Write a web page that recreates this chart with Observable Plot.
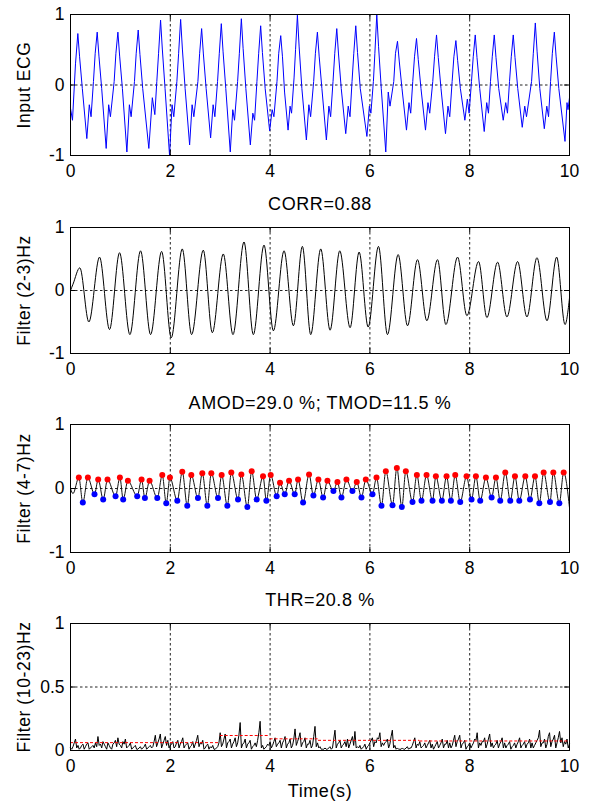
<!DOCTYPE html>
<html><head><meta charset="utf-8">
<script src="https://cdn.jsdelivr.net/npm/d3@7"></script>
<script src="https://cdn.jsdelivr.net/npm/@observablehq/plot@0.6"></script>
<style>
html,body{margin:0;padding:0;background:#fff;}
#chart{position:relative;width:589px;height:801px;overflow:hidden;background:#fff;}
#chart > div{position:absolute;left:0;width:589px;}
</style></head><body><div id="chart"></div>
<script>
// ---------- labels & ticks ----------
const xTicks = [0, 2, 4, 6, 8, 10];
const xGrid = [2, 4, 6, 8];
const yTicksSym = [-1, 0, 1];
const yTicksPos = [0, 0.5, 1];
const yLabels = ["Input ECG", "Filter (2-3)Hz", "Filter (4-7)Hz", "Filter (10-23)Hz"];
const titles = ["CORR=0.88", "AMOD=29.0 %; TMOD=11.5 %", "THR=20.8 %"];
const xLabel = "Time(s)";

// ---------- panel 1: input ECG [time s, value] ----------
const ecg = [
[0,-0.33],[0.04,-0.5],[0.1,0.3],
[0.147,0.73],[0.182,0.40],[0.237,-0.05],[0.327,-0.76],[0.377,-0.28],[0.412,-0.45],[0.46,0.05],[0.495,0.45],
[0.535,0.75],[0.57,0.41],[0.625,-0.05],[0.715,-0.90],[0.765,-0.28],[0.8,-0.45],[0.875,0.05],[0.91,0.45],
[0.95,0.75],[0.985,0.41],[1.04,-0.05],[1.13,-0.95],[1.18,-0.28],[1.215,-0.45],[1.282,0.05],[1.317,0.45],
[1.357,0.78],[1.392,0.43],[1.447,-0.05],[1.57,-0.90],[1.64,-0.18],[1.69,-0.42],[1.73,0.05],[1.765,0.45],
[1.805,0.92],[1.84,0.51],[1.895,-0.05],[1.985,-1.0],[2.035,-0.28],[2.07,-0.45],[2.132,0.05],[2.167,0.45],
[2.207,0.93],[2.242,0.51],[2.297,-0.05],[2.387,-0.85],[2.437,-0.28],[2.472,-0.45],[2.553,0.05],[2.588,0.45],
[2.628,0.80],[2.663,0.44],[2.718,-0.05],[2.808,-0.75],[2.858,-0.28],[2.893,-0.45],[2.947,0.05],[2.982,0.45],
[3.022,0.87],[3.057,0.48],[3.112,-0.05],[3.202,-0.95],[3.252,-0.35],[3.287,-0.5],[3.349,0.05],[3.384,0.45],
[3.424,0.94],[3.459,0.52],[3.514,-0.05],[3.604,-0.85],[3.654,-0.4],[3.689,-0.5],[3.736,0.05],[3.771,0.45],
[3.811,0.84],[3.846,0.46],[3.901,-0.05],[3.991,-0.65],[4.041,-0.35],[4.076,-0.45],[4.138,0.05],[4.173,0.45],
[4.213,0.70],[4.248,0.40],[4.29,-0.1],[4.36,-0.64],[4.4,-0.3],[4.43,-0.4],[4.48,0.1],[4.51,0.5],
[4.547,0.99],[4.582,0.54],[4.637,-0.05],[4.727,-0.78],[4.777,-0.28],[4.812,-0.45],[4.873,0.05],[4.908,0.45],
[4.948,0.75],[4.983,0.41],[5.038,-0.05],[5.128,-0.78],[5.178,-0.3],[5.213,-0.45],[5.261,0.05],[5.296,0.45],
[5.336,0.80],[5.371,0.44],[5.426,-0.05],[5.516,-0.69],[5.566,-0.3],[5.601,-0.45],[5.642,0.05],[5.677,0.45],
[5.717,0.84],[5.752,0.46],[5.807,-0.05],[5.94,-0.73],[5.99,-0.3],[6.02,-0.4],[6.07,0.05],[6.1,0.45],
[6.138,1.0],[6.173,0.55],[6.228,-0.05],[6.318,-0.95],[6.368,-0.1],[6.403,-0.3],[6.478,0.05],[6.513,0.45],
[6.553,0.62],[6.588,0.34],[6.643,-0.05],[6.733,-0.64],[6.783,-0.25],[6.818,-0.4],[6.859,0.05],[6.894,0.4],
[6.934,0.66],[6.969,0.36],[7.024,-0.05],[7.114,-0.64],[7.164,-0.25],[7.199,-0.4],[7.26,0.05],[7.295,0.4],
[7.335,0.71],[7.37,0.39],[7.425,-0.05],[7.515,-0.69],[7.565,-0.3],[7.6,-0.45],[7.648,0.05],[7.683,0.4],
[7.723,0.63],[7.758,0.35],[7.813,-0.05],[7.903,-0.5],[7.953,-0.2],[7.988,-0.4],[8.036,0.05],[8.071,0.4],
[8.111,0.71],[8.146,0.39],[8.201,-0.05],[8.291,-0.66],[8.341,-0.25],[8.376,-0.4],[8.417,0.05],[8.452,0.4],
[8.492,0.71],[8.527,0.39],[8.582,-0.05],[8.672,-0.5],[8.722,-0.25],[8.757,-0.4],[8.798,0.05],[8.833,0.4],
[8.873,0.71],[8.908,0.39],[8.963,-0.05],[9.053,-0.6],[9.103,-0.3],[9.138,-0.45],[9.24,0.05],[9.275,0.45],
[9.315,0.88],[9.35,0.48],[9.405,-0.05],[9.495,-0.62],[9.545,-0.3],[9.58,-0.45],[9.621,0.05],[9.656,0.45],
[9.696,0.75],[9.731,0.41],[9.786,-0.05],[9.91,-0.8],[9.95,-0.25],[9.97,-0.35],[10,-0.18]
];

// ---------- panel 2: 2-3 Hz band [time s, value] (extrema) ----------
const band23 = [
[0,0],[0.05,0.1],[0.187,0.36],[0.368,-0.5],[0.582,0.53],[0.782,-0.62],[0.983,0.60],[1.19,-0.70],
[1.404,0.63],[1.605,-0.70],[1.826,0.62],[2.019,-0.75],[2.24,0.66],[2.427,-0.70],[2.661,0.64],
[2.842,-0.67],[3.062,0.58],[3.256,-0.70],[3.477,0.77],[3.664,-0.70],[3.878,0.72],[4.066,-0.64],
[4.28,0.63],[4.467,-0.56],[4.647,0.70],[4.814,-0.70],[5.015,0.66],[5.202,-0.63],[5.396,0.63],
[5.603,-0.59],[5.784,0.61],[5.965,-0.58],[6.172,0.70],[6.352,-0.70],[6.566,0.57],[6.754,-0.56],
[6.954,0.49],[7.141,-0.48],[7.355,0.49],[7.523,-0.54],[7.757,0.53],[7.944,-0.40],[8.178,0.46],
[8.345,-0.43],[8.559,0.45],[8.746,-0.42],[8.96,0.46],[9.147,-0.42],[9.348,0.52],[9.549,-0.48],
[9.743,0.53],[9.91,-0.54],[10,-0.12]
];

// ---------- panel 3: 4-7 Hz band, detected peaks (red) and troughs (blue) ----------
const band47Peaks = [
[0.167,0.17],[0.348,0.17],[0.555,0.14],[0.742,0.14],[0.99,0.17],[1.15,0.12],[1.424,0.14],[1.585,0.12],
[1.839,0.21],[1.993,0.17],[2.24,0.26],[2.421,0.21],[2.641,0.24],[2.822,0.24],[3.029,0.21],[3.223,0.25],
[3.424,0.22],[3.631,0.27],[3.858,0.19],[4.012,0.21],[4.199,0.09],[4.38,0.12],[4.56,0.14],[4.781,0.22],
[4.968,0.14],[5.149,0.12],[5.349,0.10],[5.53,0.14],[5.737,0.10],[5.918,0.14],[6.132,0.17],[6.319,0.27],
[6.54,0.32],[6.72,0.27],[6.941,0.21],[7.135,0.21],[7.322,0.19],[7.536,0.19],[7.71,0.21],[7.937,0.19],
[8.124,0.19],[8.325,0.17],[8.526,0.17],[8.713,0.25],[8.907,0.19],[9.114,0.19],[9.308,0.19],[9.482,0.25],
[9.676,0.25],[9.883,0.25]
];
const band47Troughs = [
[0.247,-0.22],[0.481,-0.09],[0.655,-0.17],[0.903,-0.12],[1.056,-0.17],[1.337,-0.12],[1.491,-0.15],
[1.739,-0.15],[1.919,-0.23],[2.14,-0.19],[2.34,-0.27],[2.554,-0.15],[2.742,-0.27],[2.956,-0.15],
[3.143,-0.27],[3.357,-0.17],[3.544,-0.29],[3.731,-0.17],[3.925,-0.19],[4.132,-0.12],[4.293,-0.09],
[4.493,-0.09],[4.661,-0.22],[4.868,-0.11],[5.062,-0.14],[5.269,-0.04],[5.43,-0.14],[5.65,-0.04],
[5.831,-0.14],[6.052,-0.09],[6.232,-0.27],[6.453,-0.26],[6.64,-0.29],[6.854,-0.21],[7.034,-0.19],
[7.255,-0.19],[7.442,-0.19],[7.623,-0.19],[7.81,-0.21],[8.037,-0.17],[8.211,-0.19],[8.439,-0.14],
[8.612,-0.19],[8.813,-0.19],[8.994,-0.19],[9.208,-0.17],[9.395,-0.23],[9.609,-0.21],[9.796,-0.23]
];
const band47Ends = [[0,0],[0.05,-0.08],[10,-0.3]];

// ---------- panel 4: 10-23 Hz envelope, samples every 0.05 s + mid samples ----------
const band1023Step = 0.05;
const band1023 = [
0.02,0.03,0.09,0.04,0.02,0.05,0.03,0.06,0.02,0.04,
0.06,0.11,0.05,0.07,0.03,0.06,0.02,0.05,0.08,0.10,
0.04,0.07,0.09,0.03,0.06,0.02,0.04,0.01,0.03,0.02,
0.05,0.02,0.04,0.03,0.12,0.06,0.13,0.05,0.11,0.08,
0.04,0.07,0.03,0.08,0.05,0.10,0.04,0.06,0.03,0.07,
0.05,0.12,0.06,0.08,0.02,0.05,0.03,0.04,0.01,0.03,
0.14,0.05,0.13,0.06,0.09,0.05,0.10,0.06,0.22,0.05,
0.09,0.05,0.08,0.03,0.06,0.08,0.23,0.04,0.02,0.05,
0.07,0.04,0.10,0.05,0.08,0.06,0.11,0.05,0.09,0.04,
0.17,0.07,0.14,0.06,0.10,0.05,0.08,0.04,0.19,0.06,
0.03,0.01,0.02,0.01,0.03,0.02,0.16,0.05,0.08,0.04,
0.07,0.09,0.05,0.11,0.15,0.03,0.04,0.02,0.05,0.03,
0.06,0.10,0.07,0.10,0.14,0.06,0.06,0.09,0.05,0.16,
0.04,0.02,0.01,0.02,0.01,0.03,0.02,0.04,0.10,0.05,
0.07,0.03,0.06,0.04,0.08,0.05,0.03,0.07,0.04,0.09,
0.05,0.08,0.06,0.04,0.12,0.07,0.12,0.05,0.08,0.03,
0.06,0.04,0.09,0.14,0.06,0.07,0.10,0.05,0.13,0.06,
0.04,0.08,0.05,0.10,0.06,0.04,0.07,0.03,0.06,0.05,
0.10,0.04,0.07,0.05,0.09,0.06,0.04,0.08,0.16,0.06,
0.09,0.05,0.14,0.07,0.12,0.06,0.15,0.10,0.07,0.09,
0.05
];
const band1023Mid = [
0.01,0.06,0.02,0.01,0.04,0.01,0.05,0.01,0.03,0.02,
0.03,0.04,0.02,0.05,0.01,0.04,0.01,0.06,0.03,0.05,
0.02,0.05,0.02,0.04,0.01,0.03,0.01,0.02,0.01,0.03,
0.01,0.03,0.02,0.07,0.03,0.09,0.02,0.08,0.04,0.02,
0.05,0.02,0.06,0.02,0.07,0.02,0.05,0.01,0.04,0.02,
0.08,0.03,0.05,0.01,0.04,0.01,0.02,0.01,0.02,0.06,
0.03,0.09,0.02,0.07,0.02,0.07,0.03,0.12,0.02,0.06,
0.02,0.06,0.01,0.04,0.03,0.14,0.02,0.01,0.03,0.04,
0.02,0.07,0.03,0.06,0.02,0.08,0.02,0.06,0.02,0.09,
0.04,0.10,0.03,0.07,0.02,0.05,0.02,0.11,0.03,0.02,
0.01,0.01,0.01,0.02,0.01,0.09,0.02,0.06,0.02,0.05,
0.03,0.02,0.08,0.04,0.02,0.02,0.01,0.03,0.01,0.04,
0.08,0.03,0.06,0.09,0.03,0.04,0.07,0.02,0.11,0.02,
0.01,0.01,0.01,0.01,0.02,0.01,0.02,0.07,0.02,0.04,
0.02,0.04,0.02,0.06,0.02,0.01,0.05,0.02,0.06,0.02,
0.05,0.02,0.02,0.08,0.03,0.09,0.02,0.06,0.01,0.04,
0.02,0.06,0.08,0.02,0.04,0.07,0.02,0.09,0.03,0.02,
0.05,0.02,0.07,0.02,0.02,0.05,0.01,0.04,0.02,0.07,
0.02,0.05,0.02,0.06,0.02,0.02,0.06,0.10,0.03,0.06,
0.02,0.11,0.03,0.09,0.02,0.10,0.06,0.03,0.05,0.02
];
// threshold: [start s, end s, level]
const thrSegments = [[0,3.0,0.062],[3.0,4.0,0.118],[4.0,4.97,0.092],[4.97,7.0,0.08],[7.0,10,0.075]];

// ---------- drawing ----------
const FONT = '"Liberation Sans", Arial, Helvetica, sans-serif';
const W = 589, ML = 70, MR = 20;
const gridStyle = {stroke: "#222", strokeWidth: 1, strokeDasharray: "2.5,2.5"};

function panel({top, height, mt, mb, yDomain, yTicks, yGrid, label, title, titleDy, xlabel, marks}) {
  const fw = W - ML - MR, fh = height - mt - mb, tl = 5;
  const all = [
    Plot.ruleX(xGrid, {x: d => d, ...gridStyle}),
    Plot.ruleY(yGrid, {y: d => d, ...gridStyle}),
    ...marks,
    Plot.tickX(xTicks, {x: d => d, insetTop: fh - tl, stroke: "#000"}),
    Plot.tickX(xTicks, {x: d => d, insetBottom: fh - tl, stroke: "#000"}),
    Plot.tickY(yTicks, {y: d => d, insetRight: fw - tl, stroke: "#000"}),
    Plot.tickY(yTicks, {y: d => d, insetLeft: fw - tl, stroke: "#000"}),
    Plot.frame({stroke: "#000"}),
    Plot.text([label], {text: d => d, frameAnchor: "left", textAnchor: "middle", lineAnchor: "middle", rotate: -90, dx: -46, fontSize: 17.5, fill: "#000"})
  ];
  if (title) all.push(Plot.text([title], {text: d => d, frameAnchor: "top", textAnchor: "middle", lineAnchor: "bottom", dy: titleDy, fontSize: 18, fill: "#000"}));
  if (xlabel) all.push(Plot.text([xlabel], {text: d => d, frameAnchor: "bottom", textAnchor: "middle", lineAnchor: "bottom", dy: 46.5, fontSize: 18, fill: "#000"}));
  const svg = Plot.plot({
    width: W, height,
    marginLeft: ML, marginRight: MR, marginTop: mt, marginBottom: mb,
    style: {fontFamily: FONT, fontSize: "17.5px", color: "#000", background: "#fff", overflow: "visible"},
    x: {domain: [0, 10], ticks: xTicks, tickSize: 0, tickPadding: 9, tickFormat: d => String(d), label: null},
    y: {domain: yDomain, ticks: yTicks, tickSize: 0, tickPadding: 6, tickFormat: d => String(d), label: null},
    marks: all
  });
  d3.select(svg).selectAll('g[aria-label="text"] text').attr("letter-spacing", "0.6px");
  const holder = document.createElement("div");
  holder.style.top = top + "px";
  holder.style.height = height + "px";
  holder.appendChild(svg);
  document.getElementById("chart").appendChild(holder);
}

const px = d => d[0], py = d => d[1];

panel({top: 0, height: 190, mt: 14, mb: 35, yDomain: [-1, 1], yTicks: yTicksSym, yGrid: [0],
  label: yLabels[0],
  marks: [Plot.line(ecg, {x: px, y: py, stroke: "#0000ff", strokeWidth: 1})]});

panel({top: 190, height: 200, mt: 37, mb: 37, yDomain: [-1, 1], yTicks: yTicksSym, yGrid: [0],
  label: yLabels[1], title: titles[0], titleDy: -18,
  marks: [Plot.line(band23, {x: px, y: py, stroke: "#000", strokeWidth: 1, curve: "monotone-x"})]});

const band47Line = [...band47Ends, ...band47Peaks, ...band47Troughs].sort((a, b) => a[0] - b[0]);
panel({top: 390, height: 200, mt: 34, mb: 38, yDomain: [-1, 1], yTicks: yTicksSym, yGrid: [0],
  label: yLabels[2], title: titles[1], titleDy: -16,
  marks: [
    Plot.line(band47Line, {x: px, y: py, stroke: "#111", strokeWidth: 1, curve: "monotone-x"}),
    Plot.dot(band47Peaks, {x: px, y: py, r: 3, fill: "#ff0000", stroke: "none"}),
    Plot.dot(band47Troughs, {x: px, y: py, r: 3, fill: "#0000ff", stroke: "none"})
  ]});

// merge regular samples and mid samples into one time-ordered table
const band1023Table = [];
band1023.forEach((v, i) => {
  band1023Table.push({t: i * band1023Step, v});
  if (i < band1023Mid.length) band1023Table.push({t: (i + 0.5) * band1023Step, v: band1023Mid[i]});
});

panel({top: 590, height: 211, mt: 33, mb: 51, yDomain: [0, 1], yTicks: yTicksPos, yGrid: [0.5],
  label: yLabels[3], title: titles[2], titleDy: -18, xlabel: xLabel,
  marks: [
    Plot.line(band1023Table, {x: "t", y: "v", stroke: "#000", strokeWidth: 1}),
    Plot.ruleY(thrSegments, {x1: d => d[0], x2: d => d[1], y: d => d[2], stroke: "#ff0000", strokeWidth: 1, strokeDasharray: "3,2"})
  ]});
</script></body></html>
